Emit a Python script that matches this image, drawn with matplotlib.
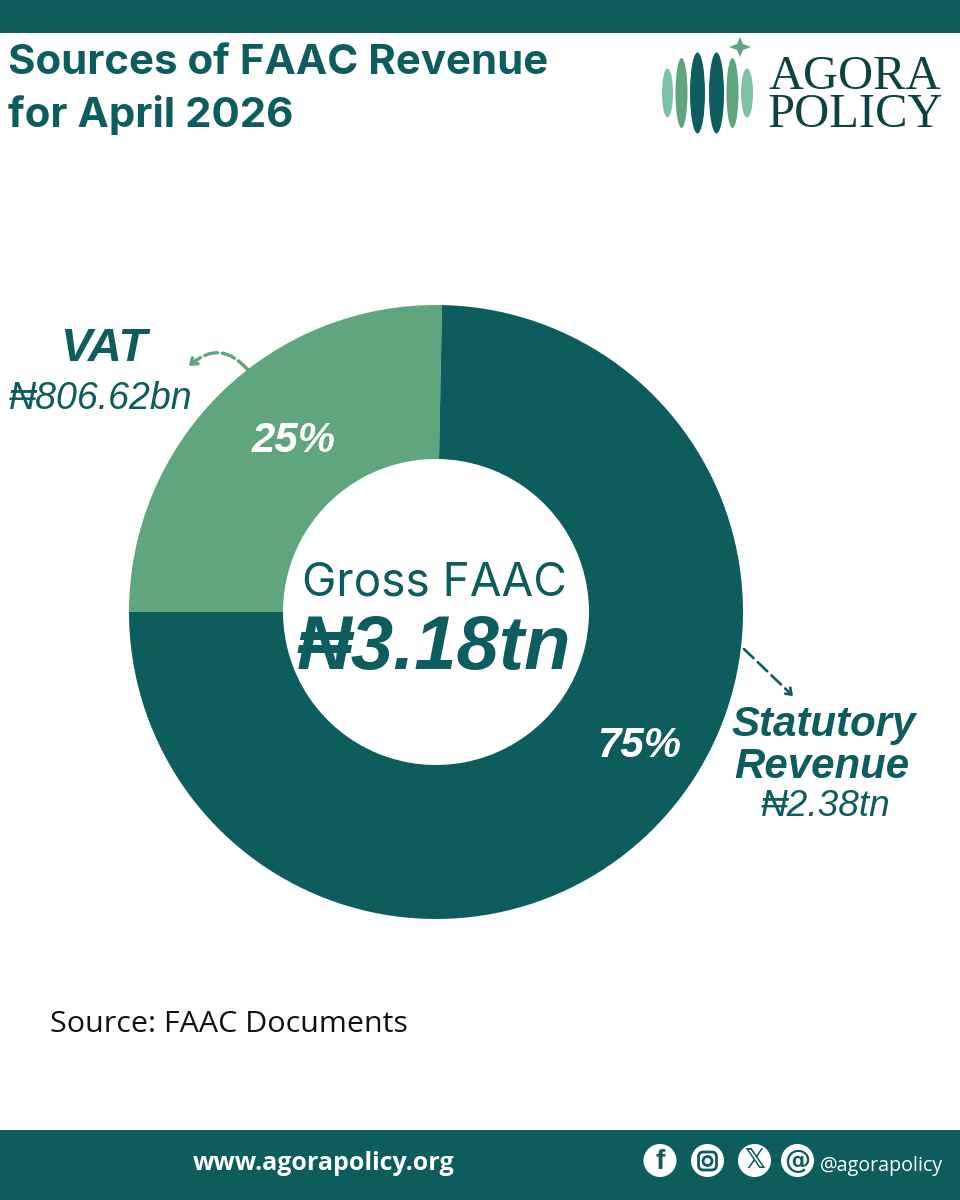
#!/usr/bin/env python3
"""Sources of FAAC revenue, April 2026: donut plus the poster furniture around it."""
import matplotlib
matplotlib.use("Agg")
import matplotlib.pyplot as plt
from matplotlib.patches import Circle, Ellipse, FancyArrowPatch, FancyBboxPatch, Polygon, Rectangle

SEGMENTS = ["VAT", "Statutory Revenue"]
VALUES = [806.62, 2380.0]  # bn naira
PCT_LABELS = ["25%", "75%"]
AMOUNTS = ["\u20a6806.62bn", "\u20a62.38tn"]
TOTAL = "\u20a63.18tn"

TEAL = "#0d5c5e"
GREEN = "#5fa57d"
MINT = "#7cc2a7"
DARK = "#0e4241"
H = 1200

plt.rcParams["font.family"] = ["Liberation Sans", "DejaVu Sans"]

fig = plt.figure(figsize=(9.6, 12), dpi=100)
ax = fig.add_axes([0, 0, 1, 1])


def px(size):
    return size * 0.72


def put(x, y, s, size, **kw):
    kw.setdefault("color", TEAL)
    kw.setdefault("ha", "center")
    kw.setdefault("va", "center")
    return ax.text(x, H - y, s, fontsize=px(size), **kw)


# donut
start = 180 - 360 * VALUES[0] / sum(VALUES)
ax.pie(VALUES, colors=[GREEN, TEAL], startangle=start, center=(436, H - 612), radius=307,
       frame=True, wedgeprops=dict(width=154, edgecolor="none"))
ax.set_xlim(0, 960)
ax.set_ylim(0, H)
ax.set_aspect("auto")
ax.axis("off")

# bars
ax.add_patch(Rectangle((0, H - 33), 960, 33, color=TEAL, lw=0))
ax.add_patch(Rectangle((0, 0), 960, 70, color=TEAL, lw=0))

# title
put(8, 63, "Sources of FAAC Revenue", 42, ha="left", fontweight="bold", family=["Inter", "DejaVu Sans"])
put(8, 115, "for April 2026", 42, ha="left", fontweight="bold", family=["Inter", "DejaVu Sans"])

# centre
put(434, 583, "Gross FAAC", 46, family=["Inter", "DejaVu Sans"])
put(434, 650, TOTAL, 76, fontweight="bold", style="italic")

# slice labels
put(294, 441, PCT_LABELS[0], 42, color="white", fontweight="bold", style="italic")
put(639, 746, PCT_LABELS[1], 42, color="white", fontweight="bold", style="italic")

# VAT callout
put(104, 349, SEGMENTS[0], 47, fontweight="bold", style="italic")
put(101, 399, AMOUNTS[0], 37.5, style="italic")
ax.add_patch(FancyArrowPatch((248, H - 370), (189, H - 366), connectionstyle="arc3,rad=0.5",
                             arrowstyle="->,head_length=4,head_width=3", color=GREEN,
                             lw=2.4, linestyle=(0, (4, 1.4)), shrinkA=0, shrinkB=0))

# statutory callout
put(824, 725, "Statutory", 42, fontweight="bold", style="italic")
put(822, 767, "Revenue", 42, fontweight="bold", style="italic")
put(826, 806, AMOUNTS[1], 37, style="italic")
ax.add_patch(FancyArrowPatch((744, H - 649), (793, H - 696),
                             arrowstyle="->,head_length=4,head_width=3", color=TEAL,
                             lw=1.9, linestyle=(0, (5, 2.2)), shrinkA=0, shrinkB=0))

put(50, 1024, "Source: FAAC Documents", 30.4, ha="left", color="#111111",
    family=["Open Sans", "DejaVu Sans"])

# logo
LOGO_X = [667.5, 681.5, 697.5, 716.5, 732.5, 747]
LOGO_W = [11, 12, 15, 15, 12, 12]
LOGO_H = [49, 70, 81, 81, 70, 49]
LOGO_C = [MINT, GREEN, TEAL, TEAL, GREEN, MINT]
for x, w, h, c in zip(LOGO_X, LOGO_W, LOGO_H, LOGO_C):
    ax.add_patch(Ellipse((x, H - 93), w, h, color=c, lw=0))
ax.add_patch(Polygon([(740, H - 37), (743, H - 44), (751, H - 47), (743, H - 50), (740, H - 57),
                      (737, H - 50), (729, H - 47), (737, H - 44)], color=GREEN, lw=0))
put(855, 96, "AGORA\nPOLICY", 48.5, color=DARK, family=["Liberation Serif"], linespacing=0.8)

# footer
put(324, 1164, "www.agorapolicy.org", 25, color="white", fontweight="bold",
    family=["Open Sans", "DejaVu Sans"])
put(820, 1166, "@agorapolicy", 19.8, ha="left", color="white", family=["Open Sans", "DejaVu Sans"])
for x in [660, 707.5, 754.5, 797.5]:
    ax.add_patch(Circle((x, H - 1160.5), 16.5, color="white", lw=0))
put(660, 1162, "f", 28, fontweight="bold")
ax.add_patch(FancyBboxPatch((698.5, H - 1170), 18, 18, boxstyle="round,pad=0,rounding_size=5",
                            fc="none", ec=TEAL, lw=2))
ax.add_patch(Circle((707.5, H - 1161), 4.5, fc="none", ec=TEAL, lw=2))
put(754.5, 1161, "\U0001d54f", 26, family=["DejaVu Sans"], fontweight="bold")
put(797.5, 1161, "@", 26, family=["DejaVu Sans"], fontweight="bold")

fig.savefig("out.png", dpi=100)
